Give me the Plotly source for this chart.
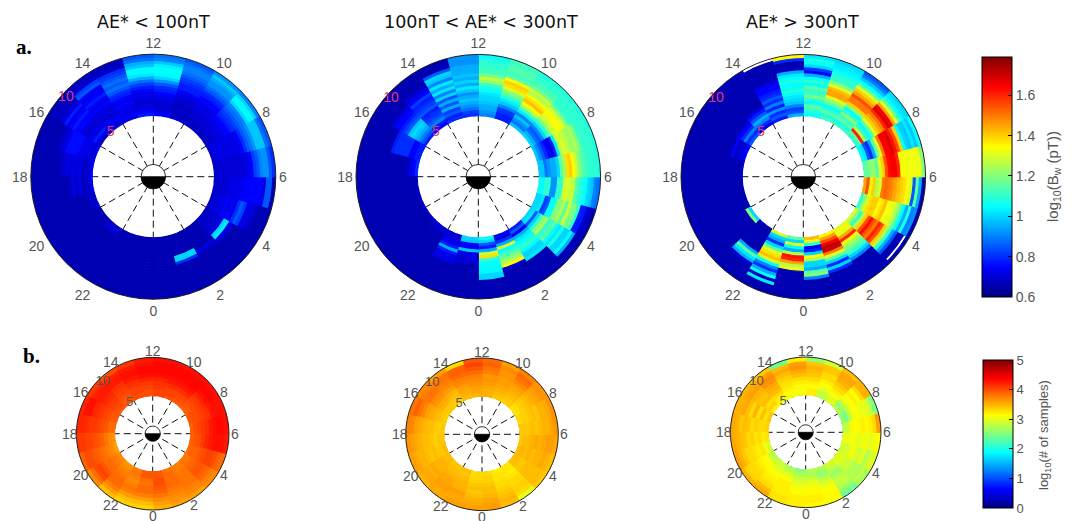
import math
import plotly.graph_objects as go
import plotly.colors as pc

W, H = 1075, 521

# MATLAB jet
jet = [[0, "rgb(0,0,128)"], [0.125, "rgb(0,0,255)"], [0.375, "rgb(0,255,255)"],
       [0.625, "rgb(255,255,0)"], [0.875, "rgb(255,0,0)"], [1, "rgb(128,0,0)"]]

hour_ticks = [12, 10, 8, 6, 4, 2, 0, 22, 20, 18, 16, 14]
bw_ticks = [0.6, 0.8, 1, 1.2, 1.4, 1.6]
samples_ticks = [0, 1, 2, 3, 4, 5]
titles = ["AE* < 100nT", "100nT < AE* < 300nT", "AE* > 300nT"]

# log10(Bw), one row per MLT hour 0..23, rings L=5..10 in steps of 0.25
bw_low = [
    [.66,.66,.66,.66,.66,.66,.66,.66,.66,.66,.66,.66,.66,.66,.66,.66,.66,.66,.66,.66],
    [.66,.66,.66,.66,.66,.66,.66,1.0,1.0,.8,.66,.66,.66,.66,.66,.66,.66,.66,.66,.66],
    [.66,.66,.66,.66,.66,.66,.66,.66,.72,.68,.66,.66,.66,.66,.66,.66,.66,.66,.66,.66],
    [.68,.68,.69,.69,.7,.7,.72,1.0,1.02,.72,.68,.66,.66,.66,.66,.66,.66,.66,.66,.66],
    [.68,.7,.7,.72,.72,.75,.72,.75,.72,.8,.85,.82,.72,.72,.7,.68,.66,.66,.66,.66],
    [.68,.7,.7,.7,.7,.72,.72,.72,.72,.74,.74,.75,.75,.75,.75,.75,.72,.85,.85,.66],
    [.68,.7,.7,.7,.7,.7,.7,.7,.7,.7,.72,.72,.75,.82,.85,.9,.92,.92,.85,.8],
    [.7,.7,.72,.72,.72,.72,.72,.72,.72,.72,.75,.8,.85,.88,.92,.98,.98,.98,.88,.85],
    [.68,.68,.7,.7,.7,.72,.72,.75,.75,.78,.8,.82,.85,.88,.9,1.0,1.04,1.04,1.0,.9],
    [.68,.68,.68,.7,.7,.7,.72,.72,.72,.75,.75,.78,.8,.85,.88,.92,.92,.95,.98,.92],
    [.7,.68,.68,.68,.68,.68,.7,.7,.72,.75,.78,.78,.8,.82,.85,.88,.9,.9,.88,.85],
    [.75,.72,.7,.7,.7,.72,.72,.75,.78,.8,.85,.92,1.0,1.04,1.05,1.05,1.03,.98,.9,.88],
    [.78,.75,.72,.72,.7,.7,.72,.72,.75,.78,.82,.88,.95,1.02,1.04,1.04,.98,.95,.88,.85],
    [.72,.75,.72,.72,.72,.75,.72,.75,.78,.8,.85,.88,.85,.88,.85,.82,.8,.68,.68,.68],
    [.7,.72,.75,.72,.7,.72,.7,.72,.75,.72,.75,.78,.75,.72,.75,.85,.82,.7,.68,.68],
    [.68,.72,.78,.72,.72,.7,.7,.72,.75,.75,.78,.75,.72,.78,.72,.68,.68,.68,.68,.66],
    [.72,.7,.72,.72,.72,.74,.76,.76,.76,.76,.72,.7,.68,.66,.66,.66,.66,.66,.66,.66],
    [.74,.7,.68,.7,.72,.7,.72,.7,.72,.7,.68,.66,.66,.66,.66,.66,.66,.66,.66,.66],
    [.74,.7,.68,.68,.72,.68,.72,.68,.66,.66,.66,.66,.66,.66,.66,.66,.66,.66,.66,.66],
    [.7,.68,.68,.66,.66,.66,.66,.66,.66,.66,.66,.66,.66,.66,.66,.66,.66,.66,.66,.66],
    [.66,.66,.66,.66,.66,.66,.66,.66,.66,.66,.66,.66,.66,.66,.66,.66,.66,.66,.66,.66],
    [.68,.7,.7,.66,.66,.66,.66,.66,.66,.66,.66,.66,.66,.66,.66,.66,.66,.66,.66,.66],
    [.66,.66,.66,.66,.66,.66,.66,.66,.66,.66,.66,.66,.66,.66,.66,.66,.66,.66,.66,.66],
    [.66,.66,.66,.66,.66,.66,.66,.66,.66,.66,.66,.66,.66,.66,.66,.66,.66,.66,.66,.66],
]
bw_mid = [
    [1.05,1.0,.85,.78,.95,1.28,1.38,1.1,1.05,1.05,1.04,1.04,1.0,1.0,.66,.66,.66,.66,.66,.66],
    [.75,.72,.8,.95,1.3,1.05,1.1,1.15,1.2,1.25,1.35,.7,.66,.66,.66,.66,.66,.66,.66,.66],
    [.78,.85,.72,.95,1.02,1.05,1.08,1.1,1.05,1.0,1.0,1.02,.66,.66,.66,.66,.66,.66,.66,.66],
    [1.0,1.02,.85,1.0,1.1,1.2,1.25,1.1,1.12,1.15,1.05,1.02,1.08,1.0,1.0,1.05,.95,.66,.66,.66],
    [1.0,1.0,1.02,.82,.85,1.05,1.05,1.2,1.2,1.25,1.15,1.28,1.2,1.18,1.1,.78,.78,.7,.68,.66],
    [1.05,1.05,1.1,1.1,.92,.92,1.1,1.1,1.28,1.3,1.28,1.27,1.15,1.1,1.08,1.05,1.0,.98,.9,.88],
    [.98,.98,.88,.92,.95,.95,1.0,1.15,1.22,1.38,1.4,1.35,1.28,1.2,1.15,1.12,1.1,1.1,1.1,1.08],
    [.98,.92,.85,.8,.75,.72,.78,1.02,1.25,1.3,1.28,1.25,1.22,1.25,1.2,1.12,1.1,1.1,1.1,1.08],
    [1.0,.95,.88,.85,.9,1.0,1.1,1.18,1.28,1.3,1.35,1.33,1.3,1.2,1.12,1.1,1.1,1.1,1.1,1.08],
    [.98,.88,.92,.98,.9,1.02,1.12,1.25,1.35,1.42,1.38,1.33,1.25,1.28,1.18,1.14,1.12,1.1,1.1,1.08],
    [.78,.78,.8,.82,.9,.98,1.02,1.08,1.15,1.2,1.3,1.38,1.4,1.33,1.15,1.12,1.14,1.14,1.12,1.12],
    [.9,.92,.95,.95,.98,1.0,1.0,1.02,1.05,1.08,1.12,1.22,1.28,1.18,1.12,1.12,1.1,1.1,1.08,1.05],
    [.8,.82,.88,.92,.95,.98,.95,.92,.98,1.02,.95,1.0,.95,.98,.95,.95,.95,.92,.92,.92],
    [.8,.78,.85,.82,.95,.85,.95,.85,1.0,.9,1.02,.95,1.02,.9,.98,1.0,.85,.66,.66,.66],
    [.75,.78,.9,.85,.82,.8,.78,.85,.82,.8,.78,.82,.75,.72,.68,.66,.66,.66,.66,.66],
    [.78,.85,.9,.95,.98,1.0,.98,.85,.82,.78,.75,.75,.7,.66,.66,.66,.66,.66,.66,.66],
    [.78,.78,.75,.75,.8,.8,.8,.8,.8,.78,.66,.66,.66,.66,.66,.66,.66,.66,.66,.66],
    [.8,.75,.72,.68,.66,.66,.66,.66,.66,.66,.66,.66,.66,.66,.66,.66,.66,.66,.66,.66],
    [.68,.66,.66,.66,.66,.66,.66,.66,.66,.66,.66,.66,.66,.66,.66,.66,.66,.66,.66,.66],
    [.68,.66,.66,.66,.66,.66,.66,.66,.66,.66,.66,.66,.66,.66,.66,.66,.66,.66,.66,.66],
    [.68,.66,.66,.66,.66,.66,.66,.66,.66,.66,.66,.66,.66,.66,.66,.66,.66,.66,.66,.66],
    [.7,.68,.68,.66,.66,.66,.66,.66,.66,.66,.66,.66,.66,.66,.66,.66,.66,.66,.66,.66],
    [.7,.7,.72,.72,.78,.95,.78,.72,.72,.72,.66,.66,.66,.66,.66,.66,.66,.66,.66,.66],
    [1.0,.98,.75,.75,.98,.72,.72,.7,.7,.66,.66,.66,.66,.66,.66,.66,.66,.66,.66,.66],
]
# None = no samples, left white
bw_high = [
    [1.42,1.3,1.1,.72,.78,1.0,1.35,1.25,1.0,1.0,.95,1.15,1.2,.9,.66,.66,.66,.66,.66,.66],
    [1.35,1.45,1.55,1.65,1.72,1.7,1.5,1.3,1.15,1.0,.8,1.0,.8,.66,.66,.66,.66,.66,.66,.66],
    [1.3,1.35,1.3,1.45,1.6,1.35,1.25,1.2,1.15,1.1,1.0,.9,.66,.66,.66,.66,.66,.66,.66,.66],
    [1.3,1.2,1.1,1.25,1.4,1.55,1.63,1.55,1.5,1.6,1.55,1.4,1.25,1.1,.95,.85,.66,.66,None,.66],
    [1.1,1.2,1.3,1.38,1.4,1.4,1.35,1.38,1.42,1.33,1.33,1.3,1.25,1.15,1.05,.95,1.08,.9,.92,.66],
    [1.45,1.55,1.35,1.4,1.25,1.3,1.5,1.52,1.5,1.48,1.45,1.42,1.4,1.38,1.33,1.3,.85,1.15,.95,.66],
    [1.15,1.17,1.2,1.22,1.15,1.3,1.4,1.55,1.63,1.65,1.65,1.6,1.35,1.33,1.33,1.33,1.33,1.33,1.32,1.2],
    [1.05,1.02,.85,.8,.95,1.15,1.3,1.5,1.65,1.65,1.68,1.62,1.55,1.4,1.05,1.0,.98,1.02,.98,1.05],
    [1.1,1.15,1.6,1.25,1.1,1.05,1.15,1.3,1.4,1.45,1.5,1.6,1.68,1.65,1.45,1.3,1.15,1.05,1.02,1.0],
    [1.1,1.08,1.15,1.12,1.2,1.1,1.05,1.2,1.4,1.5,1.5,1.55,1.45,1.4,1.3,1.15,1.05,.98,.9,.85],
    [1.12,1.08,1.15,1.1,1.05,1.15,1.22,1.3,1.45,1.45,1.42,1.3,1.2,1.1,1.1,1.08,1.05,1.03,1.02,1.0],
    [1.05,1.08,1.12,1.15,1.05,1.1,1.18,1.12,1.1,1.15,1.05,1.1,1.05,.95,.75,.82,1.0,1.05,1.08,1.02],
    [.95,.85,.82,.9,.98,1.0,1.02,1.05,1.1,1.05,1.05,1.08,1.05,1.02,.95,.68,.66,.66,.8,1.35],
    [.78,.85,.8,.92,.78,.9,.8,.85,.8,.78,.75,.75,.72,.66,.66,.66,.66,.66,.66,None],
    [.72,.8,.9,.95,.85,.78,.72,.66,.66,.66,.66,.66,.66,.66,.66,.66,.66,.66,.66,.68],
    [.85,.8,.9,.8,.75,.7,.66,.66,.66,.66,.66,.66,.66,.66,.66,.66,.66,.66,.66,.66],
    [.75,.72,.7,.68,.75,.66,.66,.66,.66,.66,.66,.66,.66,.66,.66,.66,.66,.66,.66,.66],
    [.68,.66,.66,.66,.66,.66,.66,.66,.66,.66,.66,.66,.66,.66,.66,.66,.66,.66,.66,.66],
    [.66,.66,.66,.66,.66,.66,.66,.66,.66,.66,.66,.66,.66,.66,.66,.66,.66,.66,.66,.66],
    [.66,.66,.66,.66,.66,.66,.66,.66,.66,.66,.66,.66,.66,.66,.66,.66,.66,.66,.66,.66],
    [1.0,1.2,.66,.66,.66,.66,.66,.66,.66,.66,.66,.66,.66,.66,.66,.66,.66,.66,.66,.66],
    [.66,.66,.66,.66,.66,.66,.66,.66,.66,.95,1.15,1.02,.95,.7,.66,.66,.66,.66,.66,.66],
    [1.3,1.0,.95,.8,1.0,1.15,1.3,1.38,1.42,1.3,1.05,.9,.8,.95,1.05,.68,1.03,.66,.66,.66],
    [1.15,1.0,1.3,1.05,.95,1.25,1.62,1.6,1.45,1.25,1.32,.66,.66,.66,.66,.66,.66,.66,.66,.66],
]

# log10(# of samples), one row per MLT hour 0..23, rings L=5..10 in steps of 0.5
samples_low = [
    [3.95,3.95,4.0,4.0,3.95,3.9,3.8,3.7,3.6,3.5],
    [3.8,3.85,3.85,3.85,3.85,3.8,3.75,3.7,3.65,3.6],
    [3.75,3.75,3.8,3.8,3.8,3.8,3.8,3.75,3.7,3.6],
    [3.8,3.8,3.85,3.9,3.95,3.95,3.9,3.85,3.75,3.7],
    [3.85,3.9,3.9,3.95,4.0,4.05,4.05,4.0,3.9,3.85],
    [3.9,3.95,4.0,4.1,4.2,4.25,4.3,4.3,4.3,4.25],
    [3.9,4.0,4.05,4.1,4.15,4.25,4.3,4.35,4.35,4.3],
    [3.95,4.0,4.0,4.05,4.1,4.15,4.25,4.3,4.3,4.3],
    [3.9,3.95,4.0,4.05,4.1,4.2,4.3,4.35,4.35,4.3],
    [3.95,4.0,4.05,4.15,4.25,4.3,4.35,4.35,4.35,4.3],
    [4.0,4.05,4.05,4.15,4.25,4.3,4.35,4.35,4.35,4.3],
    [4.05,4.05,4.1,4.15,4.2,4.3,4.35,4.35,4.35,4.3],
    [4.0,4.0,4.05,4.1,4.2,4.3,4.35,4.35,4.3,4.25],
    [4.0,4.05,4.05,4.1,4.15,4.25,4.3,4.3,4.25,4.1],
    [3.95,3.95,4.0,4.05,4.1,4.15,4.25,4.25,4.2,4.0],
    [3.95,4.0,4.05,4.1,4.15,4.2,4.25,4.25,4.2,4.1],
    [3.95,3.95,4.0,4.05,4.1,4.15,4.2,4.3,4.3,4.2],
    [3.85,3.85,3.95,4.0,4.05,4.1,4.1,4.15,4.2,4.2],
    [3.65,3.7,3.8,3.9,3.95,4.0,4.05,4.05,4.1,4.1],
    [3.6,3.7,3.75,3.8,3.85,3.9,3.95,4.0,4.0,3.9],
    [3.7,3.75,3.8,3.85,3.85,3.95,4.05,4.0,3.85,3.7],
    [3.65,3.7,3.75,3.8,3.85,3.85,3.85,3.75,3.6,3.45],
    [3.75,3.8,3.75,3.7,3.75,3.8,3.75,3.6,3.45,3.35],
    [3.95,3.95,3.85,3.8,3.85,3.85,3.75,3.6,3.45,3.35],
]
samples_mid = [
    [3.3,3.35,3.35,3.4,3.45,3.45,3.5,3.55,3.6,3.6],
    [3.2,3.25,3.25,3.3,3.3,3.35,3.4,3.45,3.5,3.45],
    [3.25,3.25,3.2,3.25,3.3,3.3,3.35,3.35,3.3,3.0],
    [3.45,3.45,3.4,3.4,3.45,3.45,3.45,3.45,3.45,3.4],
    [3.45,3.5,3.45,3.5,3.45,3.5,3.5,3.55,3.5,3.45],
    [3.4,3.45,3.45,3.5,3.55,3.5,3.55,3.6,3.6,3.55],
    [3.4,3.4,3.4,3.45,3.4,3.45,3.5,3.5,3.55,3.65],
    [3.3,3.35,3.35,3.4,3.45,3.4,3.5,3.5,3.55,3.65],
    [3.25,3.3,3.35,3.4,3.45,3.5,3.55,3.6,3.65,3.65],
    [3.35,3.4,3.45,3.5,3.55,3.6,3.7,3.8,3.85,3.75],
    [3.4,3.45,3.5,3.55,3.6,3.6,3.65,3.65,3.7,3.6],
    [3.5,3.5,3.55,3.6,3.65,3.65,3.75,3.8,3.9,3.85],
    [3.5,3.55,3.6,3.65,3.7,3.75,3.85,3.95,4.05,3.95],
    [3.45,3.5,3.55,3.6,3.7,3.75,3.85,3.9,3.9,3.3],
    [3.35,3.4,3.45,3.5,3.6,3.7,3.75,3.8,3.8,3.6],
    [3.4,3.4,3.5,3.55,3.65,3.7,3.8,3.8,3.75,3.7],
    [3.35,3.4,3.45,3.5,3.55,3.6,3.7,3.8,3.9,3.8],
    [3.4,3.35,3.4,3.45,3.45,3.5,3.55,3.6,3.7,3.75],
    [3.4,3.4,3.35,3.4,3.45,3.45,3.5,3.55,3.6,3.65],
    [3.45,3.4,3.4,3.45,3.4,3.45,3.5,3.5,3.55,3.6],
    [3.45,3.45,3.5,3.5,3.5,3.55,3.5,3.55,3.55,3.5],
    [3.4,3.45,3.45,3.5,3.55,3.55,3.6,3.6,3.55,3.55],
    [3.45,3.4,3.45,3.5,3.5,3.5,3.6,3.55,3.55,3.6],
    [3.3,3.3,3.35,3.4,3.45,3.4,3.45,3.5,3.55,3.6],
]
samples_high = [
    [2.75,2.7,2.85,3.0,3.05,3.15,3.15,3.2,3.2,3.15],
    [2.75,2.6,2.65,2.8,2.95,3.05,3.1,3.15,3.15,3.1],
    [2.9,2.85,2.75,2.6,2.75,2.85,2.8,2.75,2.55,2.4],
    [2.95,3.0,2.95,2.85,2.85,2.75,2.75,2.7,2.8,2.7],
    [2.85,2.9,2.95,3.05,3.0,2.85,3.0,2.75,2.9,2.95],
    [3.05,3.0,3.1,3.05,3.0,3.05,3.05,3.0,3.05,3.1],
    [2.8,2.85,3.15,3.1,3.15,3.2,3.15,3.2,3.3,3.6],
    [2.6,2.45,2.75,3.05,3.1,3.05,3.0,3.0,2.8,2.5],
    [2.75,2.6,2.8,3.05,3.1,3.2,3.1,3.3,3.5,3.5],
    [2.95,3.0,3.1,3.2,3.3,3.4,3.5,3.55,3.55,3.45],
    [2.8,2.85,3.0,3.1,3.2,3.3,3.3,3.4,3.4,2.9],
    [3.2,3.2,3.1,3.2,3.3,3.4,3.45,3.5,3.4,2.6],
    [3.15,3.1,3.15,3.2,3.3,3.45,3.55,3.65,3.6,3.2],
    [3.05,3.1,3.2,3.25,3.3,3.35,3.45,3.55,3.45,2.4],
    [3.15,3.2,3.3,3.45,3.5,3.55,3.65,3.7,3.6,3.4],
    [3.2,3.35,3.3,3.45,3.4,3.45,3.5,3.6,3.55,3.5],
    [3.4,3.25,3.45,3.25,3.5,3.3,3.45,3.55,3.5,3.5],
    [3.35,3.3,3.3,3.35,3.3,3.4,3.45,3.4,3.5,3.55],
    [3.25,3.2,3.3,3.25,3.35,3.3,3.4,3.45,3.5,3.55],
    [2.9,3.05,3.25,3.2,3.25,3.3,3.3,3.4,3.5,3.6],
    [2.75,2.9,3.1,3.15,3.2,3.25,3.3,3.3,3.35,3.5],
    [2.85,2.9,3.0,3.1,3.15,3.2,3.25,3.3,3.45,3.55],
    [2.7,2.85,3.0,3.1,3.2,3.2,3.2,3.2,3.25,3.25],
    [2.55,2.7,2.85,2.95,3.05,3.1,3.15,3.2,3.2,3.2],
]

# panels: values, ring width, cmin, cmax, centre x, centre y, radius (pixels)
panels = [
    (bw_low, 0.25, 0.6, 1.79, 153.3, 176.7, 122.5),
    (bw_mid, 0.25, 0.6, 1.79, 478.3, 176.7, 122.3),
    (bw_high, 0.25, 0.6, 1.79, 803.3, 176.7, 122.3),
    (samples_low, 0.5, 0, 5, 152.7, 433.7, 76.3),
    (samples_mid, 0.5, 0, 5, 482.0, 434.3, 76.3),
    (samples_high, 0.5, 0, 5, 805.7, 432.3, 75.3),
]


def note(text, x, y, family, size, color, angle=0):
    return dict(text=text, x=x / W, y=1 - y / H, xref="paper", yref="paper", showarrow=False,
                xanchor="center", yanchor="middle", textangle=angle,
                font=dict(family=family, size=size, color=color))


fig = go.Figure()
layout = {}
annotations = []
tick_thetas = [(12 - h) % 24 * 15 for h in hour_ticks]
tick_text = [str(h) for h in hour_ticks]

for n, (values, dr, cmin, cmax, cx, cy, R) in enumerate(panels):
    name = "polar" if n == 0 else f"polar{n + 1}"
    thetas, bases, colors, edges = [], [], [], []
    for hour, row in enumerate(values):
        for i, v in enumerate(row):
            if v is None:
                continue
            thetas.append((12 - hour - 0.5) * 15)
            bases.append(5 + i * dr)
            colors.append(v)
            edges.append(pc.sample_colorscale(jet, (v - cmin) / (cmax - cmin))[0])

    cbar = None
    if n == 0:
        cbar = dict(x=981.7 / W, xanchor="left", xpad=0, thickness=30, thicknessmode="pixels",
                    y=1 - 177 / H, yanchor="middle", ypad=0, len=240, lenmode="pixels",
                    tickvals=bw_ticks, ticks="inside", ticklen=4, tickcolor="black",
                    outlinecolor="black", outlinewidth=1,
                    tickfont=dict(family="Liberation Sans", size=14, color="#555555"))
    if n == 3:
        cbar = dict(x=983 / W, xanchor="left", xpad=0, thickness=30, thicknessmode="pixels",
                    y=1 - 434 / H, yanchor="middle", ypad=0, len=148, lenmode="pixels",
                    tickvals=samples_ticks, ticks="inside", ticklen=4, tickcolor="black",
                    outlinecolor="black", outlinewidth=1,
                    tickfont=dict(family="Liberation Sans", size=13, color="#555555"))

    fig.add_trace(go.Barpolar(
        r=[dr] * len(thetas), base=bases, theta=thetas, width=[15] * len(thetas),
        subplot=name, showlegend=False,
        marker=dict(color=colors, colorscale=jet, cmin=cmin, cmax=cmax,
                    showscale=cbar is not None, colorbar=cbar,
                    line=dict(color=edges, width=1.2)),
    ))
    # earth: dark night side, white day side
    fig.add_trace(go.Barpolar(
        r=[1, 1], base=[0, 0], theta=[180, 0], width=[180, 180], subplot=name, showlegend=False,
        marker=dict(color=["black", "white"], line=dict(color="black", width=0.8)),
    ))
    # L labels
    red = n < 3
    fig.add_trace(go.Scatterpolar(
        r=[9.6, 5.0] if red else [9.4, 5.0], theta=[312, 316] if red else [316, 323],
        text=["10", "5"], mode="text", subplot=name, showlegend=False,
        textfont=dict(family="Liberation Sans", size=14 if red else 13,
                      color="#e2386a" if red else "#555555"),
    ))
    # bottom row has its hour labels closer in than the axis would put them
    if not red:
        for t, label in zip(tick_thetas, tick_text):
            annotations.append(note(label, cx + 1.08 * R * math.sin(math.radians(t)),
                                    cy - 1.08 * R * math.cos(math.radians(t)),
                                    "Liberation Sans", 14, "#555555"))

    layout[name] = dict(
        domain=dict(x=[(cx - R) / W, (cx + R) / W], y=[1 - (cy + R) / H, 1 - (cy - R) / H]),
        bgcolor="rgba(0,0,0,0)", barmode="overlay", bargap=0,
        radialaxis=dict(range=[0, 10], tickvals=[5], showticklabels=False, ticks="", showline=False,
                        showgrid=True, gridcolor="#222222", gridwidth=0.6, griddash="3px,4px",
                        layer="above traces"),
        angularaxis=dict(rotation=90, direction="clockwise", thetaunit="degrees",
                         tickvals=tick_thetas, ticktext=tick_text, ticks="",
                         showticklabels=red,
                         showline=True, linecolor="#222222", linewidth=1,
                         showgrid=True, gridcolor="#111111", gridwidth=1, griddash="7px,4px",
                         layer="above traces",
                         tickfont=dict(family="Liberation Sans", size=14, color="#555555")),
    )

annotations += [note(t, cx, 22, "DejaVu Sans", 17.5, "#111111") for t, cx in zip(titles, [153, 481, 802])]
annotations.append(note("<b>a.</b>", 24, 47, "Liberation Serif", 21, "black"))
annotations.append(note("<b>b.</b>", 31, 356, "Liberation Serif", 21, "black"))
annotations.append(note("log<sub>10</sub>(B<sub>w</sub> (pT))", 1053, 177, "Liberation Sans", 15, "#555555", -90))
annotations.append(note("log<sub>10</sub>(# of samples)", 1044, 435, "Liberation Sans", 13, "#555555", -90))

fig.update_layout(width=W, height=H, autosize=False, margin=dict(l=0, r=0, t=0, b=0),
                  paper_bgcolor="white", annotations=annotations, **layout)

fig.write_html("out.html", config={"displayModeBar": False},
               post_script="document.body.style.margin='0';")
